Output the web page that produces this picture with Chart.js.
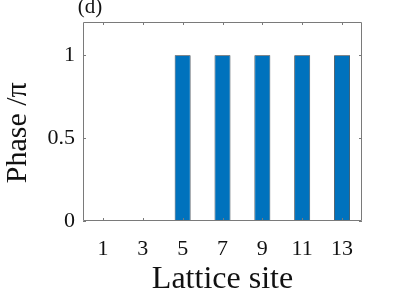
<!DOCTYPE html>
<html>
<head>
<meta charset="utf-8">
<script src="https://cdn.jsdelivr.net/npm/chart.js@4/dist/chart.umd.min.js"></script>
<style>
html,body{margin:0;padding:0;background:#fff;}
#wrap{width:399px;height:299px;}
</style>
</head>
<body>
<div id="wrap"><canvas id="c" width="399" height="299"></canvas></div>
<script>
// Data
const sites = [1,2,3,4,5,6,7,8,9,10,11,12,13];
const phase = [0,0,0,0,1,0,1,0,1,0,1,0,1];
const xTickValues = [1,3,5,7,9,11,13];
const yTickValues = [0,0.5,1];
const panelLabel = '(d)';
const xTitle = 'Lattice site';
const yTitle = 'Phase /\u03C0\u00A0\u00A0\u00A0';

const SERIF = '"Liberation Serif", "Times New Roman", serif';
const AXIS_COLOR = '#7a7a7a';

const boxPlugin = {
  id: 'box',
  afterDatasetsDraw(chart) {
    const {ctx, chartArea: a, scales: {x, y}} = chart;
    ctx.save();
    ctx.strokeStyle = AXIS_COLOR;
    ctx.lineWidth = 1;
    ctx.beginPath();
    ctx.rect(a.left + 0.5, a.top + 0.5, a.right - a.left - 1, a.bottom - a.top - 1);
    ctx.stroke();
    const tl = 3;
    ctx.beginPath();
    xTickValues.forEach(v => {
      const px = Math.round(x.getPixelForValue(v)) + 0.5;
      ctx.moveTo(px, a.bottom); ctx.lineTo(px, a.bottom - tl);
      ctx.moveTo(px, a.top); ctx.lineTo(px, a.top + tl);
    });
    yTickValues.forEach(v => {
      const py = Math.round(y.getPixelForValue(v)) + 0.5;
      ctx.moveTo(a.left, py); ctx.lineTo(a.left + tl, py);
      ctx.moveTo(a.right, py); ctx.lineTo(a.right - tl, py);
    });
    ctx.stroke();
    // panel label
    ctx.fillStyle = '#111';
    ctx.font = '21px ' + SERIF;
    ctx.textAlign = 'center';
    ctx.textBaseline = 'alphabetic';
    ctx.fillText(panelLabel, 90, 13);
    ctx.restore();
  }
};

new Chart(document.getElementById('c'), {
  type: 'bar',
  data: {
    datasets: [{
      data: sites.map((s, i) => ({x: s, y: phase[i]})),
      backgroundColor: '#0072BD',
      borderColor: '#1f2a33',
      borderWidth: 0.8,
      barPercentage: 0.8,
      categoryPercentage: 1.0
    }]
  },
  options: {
    responsive: false,
    animation: false,
    devicePixelRatio: 1,
    layout: {padding: {top: 22, right: 37, left: 0, bottom: 0}},
    plugins: {legend: {display: false}, tooltip: {enabled: false}},
    scales: {
      x: {
        type: 'linear',
        min: 0, max: 14,
        offset: false,
        grid: {display: false, drawTicks: false},
        border: {display: false},
        afterBuildTicks: s => { s.ticks = xTickValues.map(v => ({value: v})); },
        afterFit: s => { s.height = 78; },
        ticks: {
          padding: 15,
          color: '#111',
          font: {family: SERIF, size: 22},
          maxRotation: 0,
          autoSkip: false,
          callback: v => String(v)
        },
        title: {
          display: true, text: xTitle, color: '#111',
          font: {family: SERIF, size: 32},
          padding: {top: 0, bottom: 0}
        }
      },
      y: {
        min: 0, max: 1.2,
        grid: {display: false, drawTicks: false},
        border: {display: false},
        afterBuildTicks: s => { s.ticks = yTickValues.map(v => ({value: v})); },
        afterFit: s => { s.width = 83; },
        ticks: {
          padding: 8,
          color: '#111',
          font: {family: SERIF, size: 22},
          callback: v => String(v)
        },
        title: {
          display: true, text: yTitle, color: '#111',
          font: {family: SERIF, size: 30},
          padding: {top: 0, bottom: 0}
        }
      }
    }
  },
  plugins: [boxPlugin]
});
</script>
</body>
</html>
